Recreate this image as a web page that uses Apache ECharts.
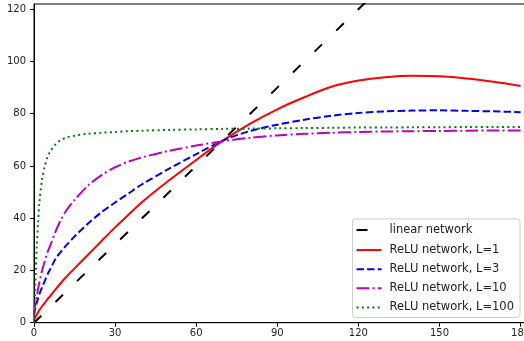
<!DOCTYPE html>
<html>
<head>
<meta charset="utf-8">
<script src="https://cdn.jsdelivr.net/npm/echarts@6/dist/echarts.min.js"></script>
<style>
html,body{margin:0;padding:0;background:#fff;}
#chart{width:524px;height:341px;}
</style>
</head>
<body>
<div id="chart"></div>
<script>
// Data
var seriesNames = ['linear network', 'ReLU network, L=1', 'ReLU network, L=3', 'ReLU network, L=10', 'ReLU network, L=100'];
var xTicks = [0, 30, 60, 90, 120, 150, 180];
var yTicks = [0, 20, 40, 60, 80, 100, 120];

var linearX = [0, 180];
var linearY = [0, 180];

var xs     = [0, 0.5, 1, 1.5, 2, 3, 4, 5, 6, 8, 10, 12, 15, 20, 25, 30, 35, 40, 50, 60, 70, 80, 90, 100, 110, 120, 130, 140, 150, 160, 170, 180];
var reluL1 = [1, 2, 3, 3.9, 4.8, 6.3, 7.6, 9, 10.2, 12.8, 15.3, 17.6, 20.8, 26, 31.3, 36.5, 41.4, 46.2, 54.5, 62.3, 69.8, 76.2, 81.7, 86.3, 90.3, 92.7, 94.0, 94.5, 94.3, 93.5, 92.2, 90.6];
var reluL3 = [3, 5.5, 7.5, 9.3, 11, 13.5, 16, 18.5, 20.5, 24.5, 27.2, 29.7, 33, 38, 42.3, 46, 49.5, 53, 59, 64.5, 69.8, 73.4, 75.8, 77.7, 79.2, 80.3, 80.9, 81.2, 81.3, 81.1, 80.9, 80.6];
var reluL10 = [3, 7, 10, 13, 15.5, 20, 23.5, 27, 29.5, 35, 39.5, 43, 47, 52.5, 56.5, 59.5, 61.7, 63.3, 65.8, 67.8, 69.5, 70.8, 71.7, 72.3, 72.7, 73, 73.2, 73.3, 73.4, 73.5, 73.6, 73.6];
var reluL100 = [0, 15, 29, 38, 46, 55, 60, 63.5, 65.5, 68.3, 70, 70.9, 71.6, 72.3, 72.7, 73, 73.3, 73.5, 73.8, 74, 74.2, 74.3, 74.4, 74.5, 74.6, 74.7, 74.7, 74.8, 74.8, 74.9, 74.9, 74.9];

function pairs(xv, yv) { return xv.map(function (x, i) { return [x, yv[i]]; }); }

var chart = echarts.init(document.getElementById('chart'), null, {renderer: 'canvas'});
var font = 'DejaVu Sans';
var axisCommon = {
  axisLine: {show: true, lineStyle: {color: '#000', width: 1}},
  axisTick: {show: true, inside: false, length: 4, lineStyle: {color: '#000', width: 1}},
  splitLine: {show: false},
  axisLabel: {fontFamily: font, fontSize: 10, color: '#222'}
};

function mkLine(name, data, color, dash, z) {
  return {
    name: name, type: 'line', data: data, symbol: 'none', showSymbol: false,
    smooth: 0.3, clip: true, z: z,
    lineStyle: {color: color, width: 2, type: dash, cap: 'butt'},
    itemStyle: {color: color},
    emphasis: {disabled: true}
  };
}

// legend handle of the linear entry: a single short dash at the left of a 25x14 box
var shortDashIcon = 'path://M0,0L0.01,0L0.01,0.01L0,0.01Z M0,6L11,6L11,8L0,8Z M24.99,13.99L25,13.99L25,14L24.99,14Z';
var legendData = seriesNames.map(function (n, i) {
  return i === 0 ? {name: n, icon: shortDashIcon, itemStyle: {opacity: 1, color: '#000'}} : {name: n};
});

chart.setOption({
  animation: false,
  backgroundColor: '#fff',
  grid: {left: 34, top: 4, width: 492, bottom: 18.3, show: true, borderColor: '#000', borderWidth: 1,
         backgroundColor: 'transparent', containLabel: false, outerBoundsMode: 'none'},
  xAxis: Object.assign({}, axisCommon, {
    type: 'value', min: 0, max: 182, interval: 30,
    axisLabel: Object.assign({}, axisCommon.axisLabel, {margin: 6, showMaxLabel: false, hideOverlap: false,
      formatter: function (v) { return xTicks.indexOf(v) >= 0 ? String(v) : ''; }})
  }),
  yAxis: Object.assign({}, axisCommon, {
    type: 'value', min: 0, max: 122, interval: 20,
    axisLabel: Object.assign({}, axisCommon.axisLabel, {margin: 8, showMaxLabel: false,
      formatter: function (v) { return yTicks.indexOf(v) >= 0 ? String(v) : ''; }})
  }),
  legend: {
    orient: 'vertical', right: 4, bottom: 23.5, align: 'left',
    itemWidth: 25, itemHeight: 14, itemGap: 7.15,
    padding: [4, 6, 4, 3],
    backgroundColor: 'rgba(255,255,255,0.8)', borderColor: '#ccc', borderWidth: 1, borderRadius: 3,
    itemStyle: {opacity: 0, borderWidth: 0},
    textStyle: {fontFamily: font, fontSize: 11.5, color: '#222', padding: [0, 0, 0, 3]},
    selectedMode: false,
    data: legendData
  },
  series: [
    mkLine(seriesNames[0], pairs(linearX, linearY), '#000000', [10.5, 19.5], 2),
    mkLine(seriesNames[1], pairs(xs, reluL1), '#ff0000', 'solid', 3),
    mkLine(seriesNames[2], pairs(xs, reluL3), '#0000ff', [7.4, 3.2], 4),
    mkLine(seriesNames[3], pairs(xs, reluL10), '#bf00bf', [12.8, 3.2, 2, 3.2], 5),
    mkLine(seriesNames[4], pairs(xs, reluL100), '#008000', [2, 3.3], 6)
  ]
});
</script>
</body>
</html>
